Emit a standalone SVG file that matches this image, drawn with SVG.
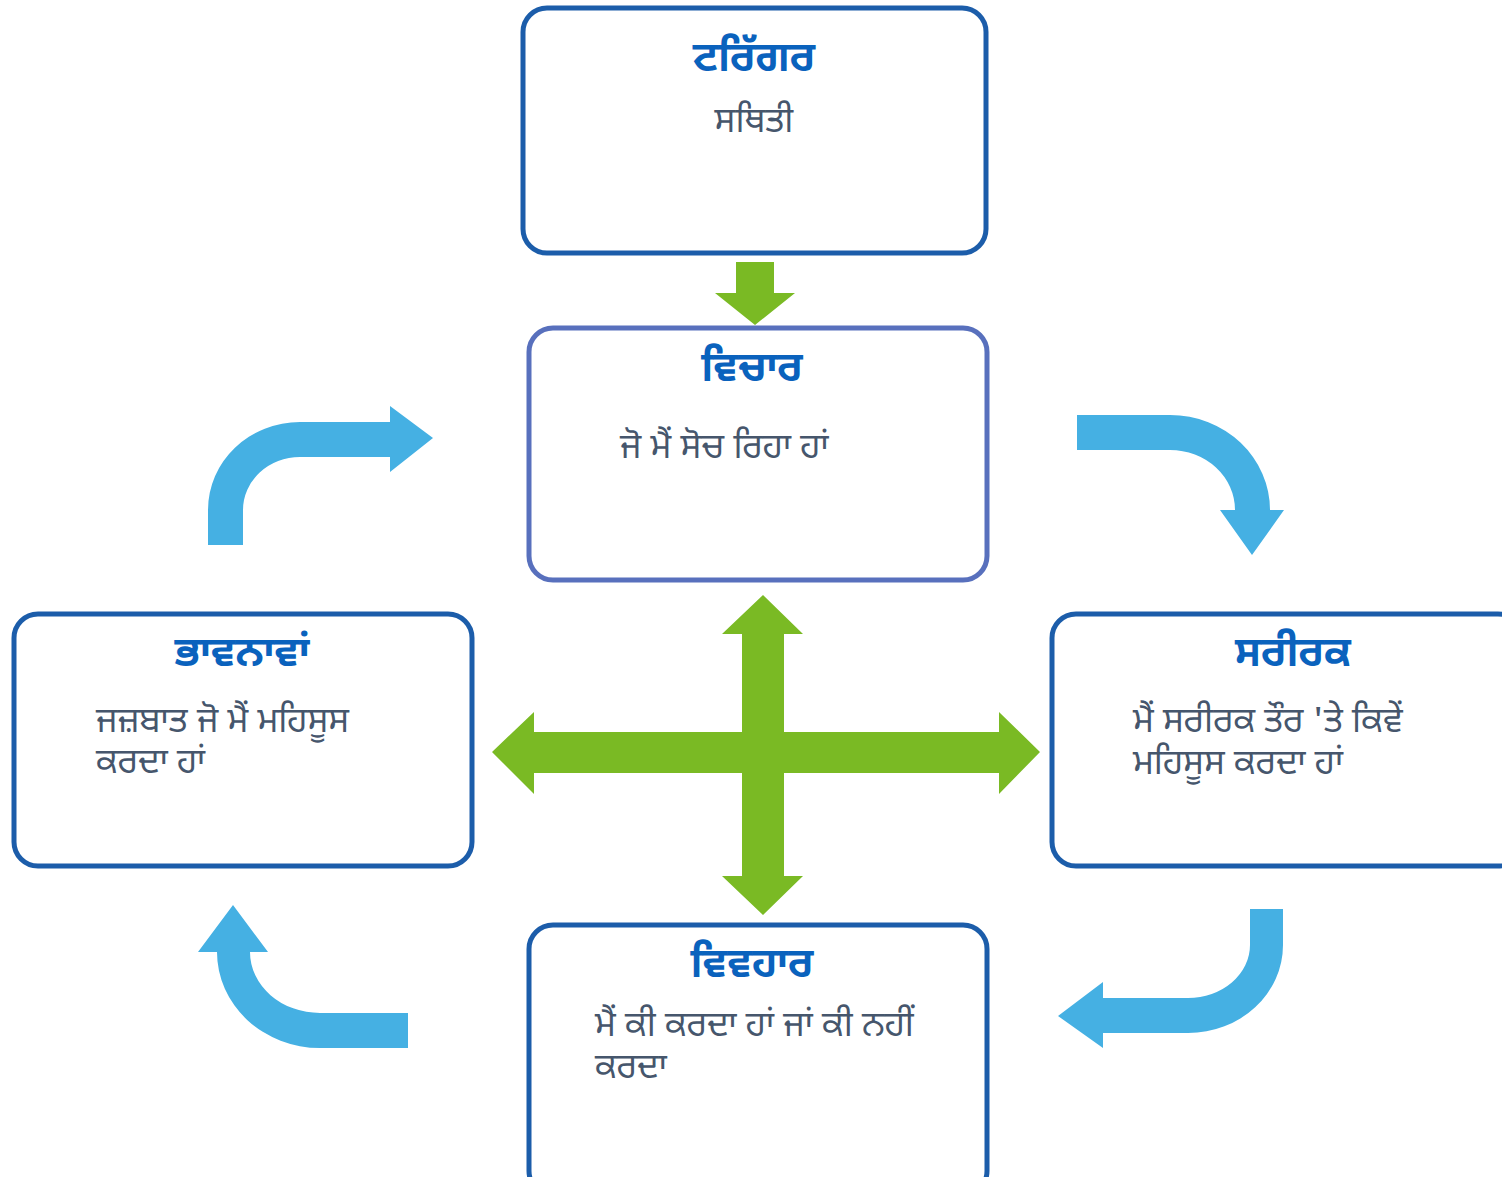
<svg xmlns="http://www.w3.org/2000/svg" width="1502" height="1177" viewBox="0 0 1502 1177">
<style>
.box{fill:#fff;stroke:#1c5daa;stroke-width:5}
.title{font-family:"Noto Sans Gurmukhi","Noto Sans",sans-serif;font-weight:bold;font-size:41px;fill:#0a62bd;text-anchor:middle}
.body{font-family:"Noto Sans Gurmukhi","Noto Sans",sans-serif;font-size:35px;fill:#46566c}
.green{fill:#7aba24}
.blue{fill:#45b0e3}
</style>
<rect width="1502" height="1177" fill="#fff"/>
<g id="connectors">
<path class="green" d="M736,262 L774,262 L774,293 L795,293 L755,325 L715,293 L736,293 Z"/>
<path class="green" d="M763,595 L803,634 L784,634 L784,732 L999,732 L999,712 L1040,752 L999,794 L999,773 L784,773 L784,876 L803,876 L763,915 L722,876 L742,876 L742,773 L534,773 L534,794 L492,752 L534,712 L534,732 L742,732 L742,634 L722,634 Z"/>
<path class="blue" d="M208,545 L208,510 A92,88 0 0 1 300,422 L390,422 L390,406 L433,438 L390,472 L390,457 L300,457 A57,53 0 0 0 243,510 L243,545 Z"/>
<path class="blue" d="M1077,415 L1170,415 A100,95 0 0 1 1270,510 L1284,510 L1252,555 L1220,510 L1235,510 A65,60 0 0 0 1170,450 L1077,450 Z"/>
<path class="blue" d="M1250,909 L1283,909 L1283,945 A95,88 0 0 1 1188,1033 L1103,1033 L1103,1048 L1058,1016 L1103,982 L1103,998 L1188,998 A62,53 0 0 0 1250,945 Z"/>
<path class="blue" d="M408,1013 L320,1013 A70,61 0 0 1 250,952 L268,952 L233,905 L198,952 L217,952 A103,96 0 0 0 320,1048 L408,1048 Z"/>
</g>
<g id="trigger">
<rect class="box" x="523" y="8" width="463" height="245" rx="24"/>
<text class="title" x="754" y="71">ਟਰਿੱਗਰ</text>
<text class="body" x="754" y="132" text-anchor="middle">ਸਥਿਤੀ</text>
</g>
<g id="thoughts">
<rect class="box" x="529" y="328" width="458" height="252" rx="24" style="stroke:#5870bd"/>
<text class="title" x="752" y="381">ਵਿਚਾਰ</text>
<text class="body" x="620" y="458">ਜੋ ਮੈਂ ਸੋਚ ਰਿਹਾ ਹਾਂ</text>
</g>
<g id="feelings">
<rect class="box" x="14" y="614" width="458" height="252" rx="24"/>
<text class="title" x="242" y="666">ਭਾਵਨਾਵਾਂ</text>
<text class="body" x="96" y="732">ਜਜ਼ਬਾਤ ਜੋ ਮੈਂ ਮਹਿਸੂਸ</text>
<text class="body" x="96" y="773">ਕਰਦਾ ਹਾਂ</text>
</g>
<g id="physical">
<rect class="box" x="1052" y="614" width="470" height="252" rx="24"/>
<text class="title" x="1293" y="666">ਸਰੀਰਕ</text>
<text class="body" x="1133" y="732">ਮੈਂ ਸਰੀਰਕ ਤੌਰ 'ਤੇ ਕਿਵੇਂ</text>
<text class="body" x="1133" y="774">ਮਹਿਸੂਸ ਕਰਦਾ ਹਾਂ</text>
</g>
<g id="behaviour">
<rect class="box" x="529" y="925" width="458" height="270" rx="24"/>
<text class="title" x="752" y="977">ਵਿਵਹਾਰ</text>
<text class="body" x="595" y="1036">ਮੈਂ ਕੀ ਕਰਦਾ ਹਾਂ ਜਾਂ ਕੀ ਨਹੀਂ</text>
<text class="body" x="595" y="1078">ਕਰਦਾ</text>
</g>
</svg>
